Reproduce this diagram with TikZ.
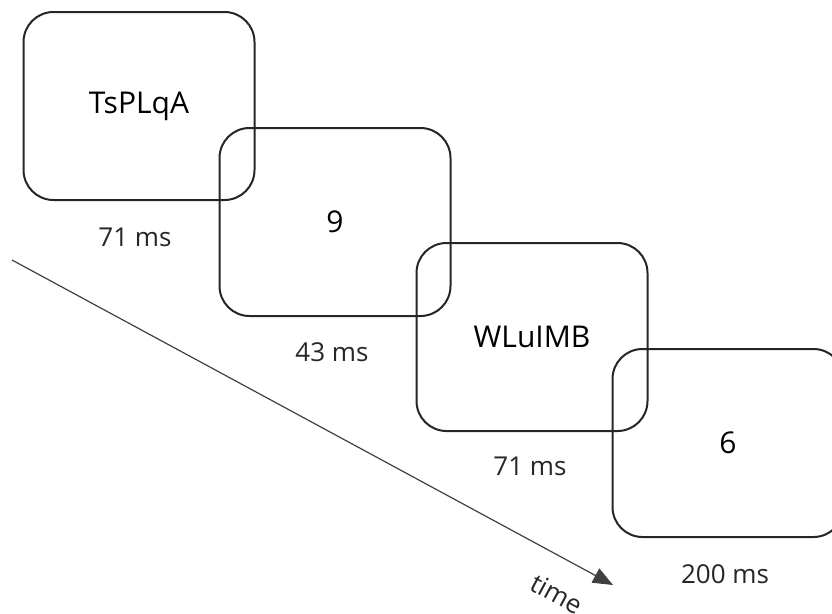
\documentclass[tikz,border=0pt]{standalone}
\usepackage{fontspec}
\setmainfont{Open Sans}
\usetikzlibrary{arrows.meta,positioning}
\tikzset{
  frame/.style={draw=black!85, line width=2pt, rounded corners=30pt,
    minimum width=231pt, minimum height=188pt,
    font=\fontsize{30}{36}\selectfont},
  dur/.style={font=\fontsize{26}{31}\selectfont, text=black!85},
}
\begin{document}
\begin{tikzpicture}[x=1pt, y=-1pt]
\useasboundingbox (0,0) rectangle (832,613);
% stimulus frames
\node[frame] (f1) at (139,106) {TsPLqA};
\node[frame] (f2) at (335,222) {9};
\node[frame] (f3) at (532,337) {WLuIMB};
\node[frame] (f4) at (728,443) {6};
% durations
\node[dur] (d1) at (135,237) {71 ms};
\node[dur] (d2) at (332,352) {43 ms};
\node[dur] (d3) at (530,466) {71 ms};
\node[dur] (d4) at (725,574) {200 ms};
% time axis
\coordinate (t0) at (12,260);
\coordinate (t1) at (613,585);
\draw[-{Triangle[length=20pt,width=16pt]}, black!75, line width=1.2pt] (t0) -- (t1);
\node[dur, rotate=-28.4] (tl) at (557,594) {time};
\end{tikzpicture}
\end{document}
